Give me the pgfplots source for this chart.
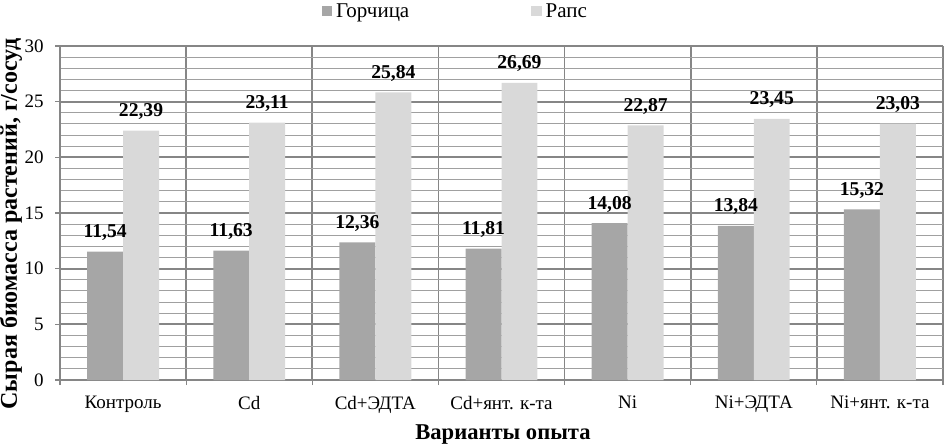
\documentclass[border=0pt]{standalone}
\usepackage{fontspec}
\setmainfont{Liberation Serif}
\usepackage{pgfplots}
\pgfplotsset{compat=1.18}
\definecolor{mustard}{HTML}{A6A6A6}
\definecolor{rape}{HTML}{D9D9D9}
\definecolor{gridmaj}{HTML}{868686}
\definecolor{gridmin}{HTML}{A0A0A0}

\begin{document}
\begin{tikzpicture}
\begin{axis}[
    name=ax,
    scale only axis,
    width=441.5pt, height=167pt,
    ybar=0pt,
    bar width=0.285,
    xmin=-0.5, xmax=6.5,
    ymin=0, ymax=30,
    ytick={0,5,...,30},
    minor y tick num=4,
    ymajorgrids, yminorgrids,
    major grid style={gridmaj, line width=0.9pt},
    minor grid style={gridmin, line width=0.45pt},
    xtick={-0.5,0.5,1.5,2.5,3.5,4.5,5.5,6.5},
    xticklabels={},
    xmajorgrids,
    extra x ticks={0,1,2,3,4,5,6},
    extra x tick labels={Контроль, Cd, Cd+ЭДТА, Cd+янт. к-та, Ni, Ni+ЭДТА, Ni+янт. к-та},
    extra x tick style={grid=none, major tick length=0pt,
        xticklabel style={yshift=-8pt}},
    tick align=outside,
    major tick length=2.5pt,
    minor tick length=0pt,
    xtick pos=bottom, ytick pos=left,
    tick style={gridmaj, line width=0.6pt},
    axis lines*=left,
    axis line style={gridmaj, line width=1pt},
    /pgf/number format/assume math mode=true,
    /pgf/number format/use comma,
    /pgf/number format/fixed,
    /pgf/number format/fixed zerofill,
    /pgf/number format/precision=2,
    yticklabel style={/pgf/number format/precision=0, font=\fontsize{9.5}{11}\selectfont,
        inner sep=0pt, xshift=-5.5pt},
    xticklabel style={font=\fontsize{9.5}{11}\selectfont, inner sep=0pt},
    ylabel={\textbf{Сырая биомасса растений, г/сосуд}},
    xlabel={\textbf{Варианты опыта}},
    ylabel style={font=\fontsize{12}{14}\selectfont, inner sep=0pt,
        at={(rel axis cs:-0.0487,0.467)}, anchor=base},
    xlabel style={font=\fontsize{11.3}{13}\selectfont, inner sep=0pt,
        at={(rel axis cs:0.5017,-0.178)}, anchor=base},
    nodes near coords,
    every node near coord/.append style={font=\bfseries\fontsize{9.8}{11}\selectfont,
        inner sep=0pt, anchor=base, yshift=7pt, text=black},
    legend columns=2,
    legend style={draw=none, fill=none, at={(rel axis cs:0.296,1.14)}, anchor=north west,
        font=\fontsize{10.5}{12}\selectfont, inner sep=0pt,
        /tikz/every even column/.append style={column sep=59pt}},
    legend image code/.code={\fill[#1] (0pt,-2.2pt) rectangle (5.2pt,3pt);},
]
\addplot[fill=mustard, draw=none] coordinates {
    (0,11.54) (1,11.63) (2,12.36) (3,11.81) (4,14.08) (5,13.84) (6,15.32)
};
\addplot[fill=rape, draw=none] coordinates {
    (0,22.39) (1,23.11) (2,25.84) (3,26.69) (4,22.87) (5,23.45) (6,23.03)
};
\legend{Горчица, Рапс}
\end{axis}
\pgfresetboundingbox
\path[use as bounding box] ([xshift=-30pt,yshift=-32.5pt]ax.south west)
    rectangle ([xshift=0.5pt,yshift=23pt]ax.north east);
\end{tikzpicture}
\end{document}
